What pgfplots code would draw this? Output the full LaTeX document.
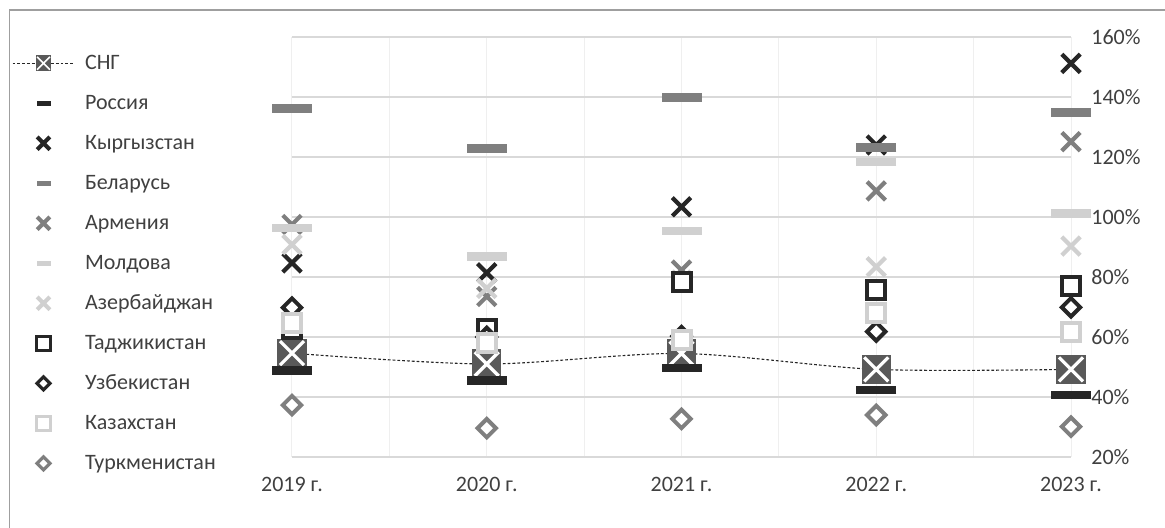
\documentclass[border=0pt]{standalone}
\usepackage{fontspec}
\setmainfont{Carlito}
\usepackage{pgfplots}
\usepackage{pgfplotstable}
\pgfplotsset{compat=1.18}

\definecolor{txt}{HTML}{404040}
\definecolor{blk}{HTML}{262626}
\definecolor{mid}{HTML}{7F7F7F}
\definecolor{lgt}{HTML}{D0D0D0}
\definecolor{cisfill}{HTML}{595959}
\definecolor{hgrid}{HTML}{D9D9D9}
\definecolor{vgrid}{HTML}{EFEFEF}

% filled box with a white cross, like the Excel marker of the CIS series
\pgfdeclareplotmark{cis}{%
  \pgfpathrectangle{\pgfqpoint{-\pgfplotmarksize}{-\pgfplotmarksize}}{\pgfqpoint{2\pgfplotmarksize}{2\pgfplotmarksize}}%
  \pgfsetfillcolor{cisfill}\pgfusepathqfill
  \pgfsetstrokecolor{white}\pgfsetlinewidth{0.22\pgfplotmarksize}%
  \pgfpathmoveto{\pgfqpoint{-0.82\pgfplotmarksize}{-0.82\pgfplotmarksize}}%
  \pgfpathlineto{\pgfqpoint{0.82\pgfplotmarksize}{0.82\pgfplotmarksize}}%
  \pgfpathmoveto{\pgfqpoint{-0.82\pgfplotmarksize}{0.82\pgfplotmarksize}}%
  \pgfpathlineto{\pgfqpoint{0.82\pgfplotmarksize}{-0.82\pgfplotmarksize}}%
  \pgfusepathqstroke}

\pgfplotsset{
  dashm/.style={only marks, color=#1, mark=-, mark size=10pt,
    mark options={solid, line width=4.25pt, draw=#1}},
  crossm/.style={only marks, color=#1, mark=x, mark size=6.5pt,
    mark options={solid, line width=2.1pt, draw=#1}},
  sqm/.style={only marks, color=#1, mark=square*, mark size=4.5pt,
    mark options={solid, line width=2pt, draw=#1, fill=white}},
  diam/.style={only marks, color=#1, mark=square*, mark size=3.25pt,
    mark options={solid, rotate=45, line width=2pt, draw=#1, fill=white}},
  % smaller versions for the legend
  ldash/.style={only marks, color=#1, mark=-, mark size=3.5pt,
    mark options={solid, line width=2.5pt, draw=#1}},
  lcross/.style={only marks, color=#1, mark=x, mark size=4.5pt,
    mark options={solid, line width=2pt, draw=#1}},
  lsq/.style={only marks, color=#1, mark=square*, mark size=3.5pt,
    mark options={solid, line width=1.6pt, draw=#1, fill=white}},
  ldia/.style={only marks, color=#1, mark=square*, mark size=2.3pt,
    mark options={solid, rotate=45, line width=1.6pt, draw=#1, fill=white}},
}

\pgfplotstableread{
x   cis   ru    kg     by     am     md     az    tj    uz    kz    tm
0   54.6  48.8  84.7   136.2  97.5   96.3   90.8  62.8  69.8  64.5  37.3
1   51.0  45.5  81.4   122.8  73.5   86.8   76.2  62.8  60.0  58.0  29.6
2   54.5  49.6  103.4  139.9  82.3   95.4   79.0  78.4  60.3  59.0  32.7
3   49.2  42.3  124.0  123.1  108.7  118.4  83.4  75.7  61.8  67.9  34.0
4   49.2  40.7  151.2  134.8  125.1  101.2  90.3  77.1  69.9  61.6  30.1
}\data

\begin{document}
\begin{tikzpicture}
\begin{scope}[x=0.5pt, y=0.5pt]
  \path[use as bounding box] (-292,-71) rectangle (873,457);
  \draw[color=gray!75, line width=0.75pt] (-282.5,-90) -- (-282.5,447) -- (890,447);
\end{scope}
\begin{axis}[
    at={(0,0)}, anchor=south west,
    scale only axis, width=389.5pt, height=210pt,
    clip=false,
    font=\fontsize{11}{13}\selectfont,
    /pgf/number format/assume math mode=true,
    xmin=0, xmax=4, ymin=20, ymax=160,
    xtick={0,...,4},
    xticklabels={2019 г.,2020 г.,2021 г.,2022 г.,2023 г.},
    minor xtick={0.5,1.5,2.5,3.5},
    ytick={20,40,...,160},
    yticklabel={\pgfmathprintnumber{\tick}\%},
    yticklabel pos=right,
    major tick length=0pt, minor tick length=0pt,
    tick style={draw=none},
    axis line style={draw=none},
    xmajorgrids, xminorgrids, ymajorgrids,
    x grid style={color=vgrid, line width=0.5pt},
    y grid style={color=hgrid, line width=0.75pt},
    xticklabel style={text=txt, anchor=north, inner sep=0pt, yshift=-10pt},
    yticklabel style={text=txt, anchor=west, inner sep=0pt, xshift=10pt},
    legend image code/.code={%
      \draw[mark repeat=2, mark phase=2, #1]
        plot coordinates {(0pt,0pt) (15.5pt,0pt) (31pt,0pt)};},
    legend cell align=left,
    legend style={at={(-0.36,0.986)}, anchor=north west,
      draw=none, fill=none, inner sep=0pt, row sep=0pt, column sep=5pt,
      text=txt, font=\fontsize{11}{13}\selectfont,
      nodes={inner sep=0pt, text height=13pt, text depth=7pt}},
  ]

  \addplot+[forget plot, smooth, no markers, color=blk, line width=0.55pt,
    dash pattern=on 1.4pt off 1pt] table[x=x, y=cis] {\data};
  \addplot[forget plot, only marks, mark=cis, mark size=7.3pt] table[x=x, y=cis] {\data};
  \addplot[forget plot, dashm=blk]  table[x=x, y=ru] {\data};
  \addplot[forget plot, crossm=blk] table[x=x, y=kg] {\data};
  \addplot[forget plot, dashm=mid]  table[x=x, y=by] {\data};
  \addplot[forget plot, crossm=mid] table[x=x, y=am] {\data};
  \addplot[forget plot, dashm=lgt]  table[x=x, y=md] {\data};
  \addplot[forget plot, crossm=lgt] table[x=x, y=az] {\data};
  \addplot[forget plot, sqm=blk]    table[x=x, y=tj] {\data};
  \addplot[forget plot, diam=blk]   table[x=x, y=uz] {\data};
  \addplot[forget plot, sqm=lgt]    table[x=x, y=kz] {\data};
  \addplot[forget plot, diam=mid]   table[x=x, y=tm] {\data};

  \addlegendimage{color=blk, line width=0.55pt, dash pattern=on 1.4pt off 1pt,
    mark=cis, mark size=3.9pt, mark options={solid}}
  \addlegendentry{СНГ}
  \addlegendimage{ldash=blk}  \addlegendentry{Россия}
  \addlegendimage{lcross=blk} \addlegendentry{Кыргызстан}
  \addlegendimage{ldash=mid}  \addlegendentry{Беларусь}
  \addlegendimage{lcross=mid} \addlegendentry{Армения}
  \addlegendimage{ldash=lgt}  \addlegendentry{Молдова}
  \addlegendimage{lcross=lgt} \addlegendentry{Азербайджан}
  \addlegendimage{lsq=blk}    \addlegendentry{Таджикистан}
  \addlegendimage{ldia=blk}   \addlegendentry{Узбекистан}
  \addlegendimage{lsq=lgt}    \addlegendentry{Казахстан}
  \addlegendimage{ldia=mid}   \addlegendentry{Туркменистан}
\end{axis}
\end{tikzpicture}
\end{document}
